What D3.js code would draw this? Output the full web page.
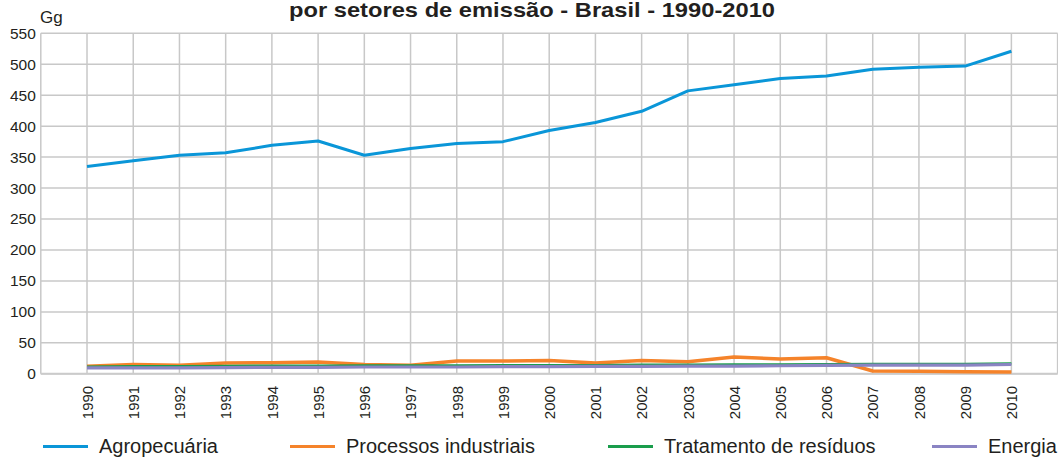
<!DOCTYPE html>
<html>
<head>
<meta charset="utf-8">
<script src="https://cdn.jsdelivr.net/npm/d3@7"></script>
<style>
  body { margin: 0; background: #fff; }
  svg { display: block; font-family: "Liberation Sans", Arial, sans-serif; }
  .tick text { fill: #231f20; }
</style>
</head>
<body>
<svg width="1058" height="460"></svg>
<script>
// **** data ****
var years = [1990, 1991, 1992, 1993, 1994, 1995, 1996, 1997, 1998, 1999, 2000,
             2001, 2002, 2003, 2004, 2005, 2006, 2007, 2008, 2009, 2010];

var agropecuaria = [335, 344, 353, 357, 369, 376, 353, 364, 372, 375, 393,
                    406, 424, 457, 467, 477, 481, 492, 495, 497, 521];

var processos = [12, 15, 14, 17.5, 18, 19, 15, 14, 20.5, 20.5, 21.5,
                 17.5, 21.5, 19.5, 27, 24, 26, 4.5, 4, 3.5, 3];

var tratamento = [11.5, 12, 12, 12.5, 13, 13, 13.5, 13.5, 13.5, 14, 14,
                  14, 14.5, 14.5, 15, 15, 15.5, 16, 16, 16, 16.5];

var energia = [9.5, 9.5, 9.5, 10, 10.5, 10.5, 11, 11, 11, 11.5, 11.5,
               12, 12, 12.5, 12.5, 13, 13.5, 14, 14, 14, 15];

var seriesNames = ["Agropecuária", "Processos industriais", "Tratamento de resíduos", "Energia"];
var seriesColors = ["#0a96d8", "#f5832a", "#1a9d4c", "#8a84c3"];
var yTicks = [0, 50, 100, 150, 200, 250, 300, 350, 400, 450, 500, 550];

// **** scales ****
var svg = d3.select("svg");

var xScale = d3.scaleLinear().domain([1989, 2011]).range([40.8, 1057.6]);
var yScale = d3.scaleLinear().domain([0, 550]).range([373.8, 33.3]);

// grid
var grid = svg.append("g").attr("stroke", "#c8c8c8").attr("stroke-width", 1.5);

grid.selectAll("line.h")
    .data(yTicks)
    .enter().append("line")
    .attr("class", "h")
    .attr("x1", xScale(1989)).attr("x2", xScale(2011))
    .attr("y1", function(d) { return yScale(d); })
    .attr("y2", function(d) { return yScale(d); });

grid.selectAll("line.v")
    .data(d3.range(1989, 2012))
    .enter().append("line")
    .attr("class", "v")
    .attr("x1", function(d) { return xScale(d); })
    .attr("x2", function(d) { return xScale(d); })
    .attr("y1", yScale(550)).attr("y2", yScale(0));

// y axis labels
svg.append("g")
    .attr("transform", "translate(" + (xScale(1989) - 5) + ",0)")
    .call(d3.axisLeft(yScale).tickValues(yTicks).tickSize(0).tickPadding(0))
    .call(function(g) { g.select(".domain").remove(); })
    .selectAll("text")
    .attr("font-size", 15.5)
    .attr("font-family", "Liberation Sans, Arial, sans-serif");

// x axis labels (rotated)
var xAxis = svg.append("g")
    .attr("transform", "translate(0," + (yScale(0) + 12) + ")")
    .call(d3.axisBottom(xScale).tickValues(years).tickFormat(d3.format("d")).tickSize(0))
    .call(function(g) { g.select(".domain").remove(); });

xAxis.selectAll("text")
    .attr("font-size", 15)
    .attr("font-family", "Liberation Sans, Arial, sans-serif")
    .attr("transform", "rotate(-90)")
    .attr("text-anchor", "end")
    .attr("x", 0)
    .attr("y", 0)
    .attr("dy", "0.35em");

// bottom baseline
svg.append("line")
    .attr("x1", xScale(1989)).attr("x2", xScale(2011))
    .attr("y1", yScale(0)).attr("y2", yScale(0))
    .attr("stroke", "#cbcbcb").attr("stroke-width", 2);

// **** lines ****
var line = d3.line()
    .x(function(d, i) { return xScale(years[i]); })
    .y(function(d) { return yScale(d); });

var allSeries = [agropecuaria, processos, tratamento, energia];
var widths = [3, 3.5, 2.5, 3.2];

svg.selectAll("path.series")
    .data(allSeries)
    .enter().append("path")
    .attr("class", "series")
    .attr("d", line)
    .attr("fill", "none")
    .attr("stroke", function(d, i) { return seriesColors[i]; })
    .attr("stroke-width", function(d, i) { return widths[i]; })
    .attr("stroke-linejoin", "round");

// **** labels ****
svg.append("text")
    .attr("x", 40).attr("y", 22.5)
    .attr("font-size", 17)
    .attr("fill", "#231f20")
    .text("Gg");

svg.append("text")
    .attr("x", 532).attr("y", 16.5)
    .attr("text-anchor", "middle")
    .attr("font-size", 21)
    .attr("font-weight", "bold")
    .attr("fill", "#231f20")
    .attr("textLength", 486)
    .attr("lengthAdjust", "spacingAndGlyphs")
    .text("por setores de emissão - Brasil - 1990-2010");

// legend
var legendX = [43, 290, 608, 932];
var legend = svg.selectAll("g.legend")
    .data(seriesNames)
    .enter().append("g")
    .attr("class", "legend")
    .attr("transform", function(d, i) { return "translate(" + legendX[i] + ",446.5)"; });

legend.append("line")
    .attr("x1", 0).attr("x2", 45)
    .attr("stroke", function(d, i) { return seriesColors[i]; })
    .attr("stroke-width", 3);

legend.append("text")
    .attr("x", 56).attr("y", 6.5)
    .attr("font-size", 20)
    .attr("fill", "#231f20")
    .text(function(d) { return d; });
</script>
</body>
</html>
